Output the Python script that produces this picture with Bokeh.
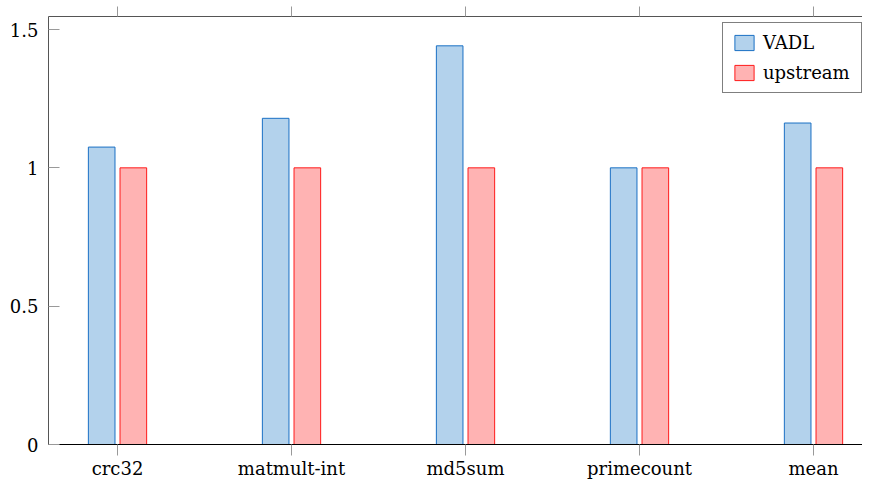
from bokeh.plotting import figure
from bokeh.models import (ColumnDataSource, Range1d, FixedTicker, LinearAxis,
                          Legend, LegendItem)
from bokeh.embed import file_html
from bokeh.resources import INLINE

# ---- data ----
categories = ["crc32", "matmult-int", "md5sum", "primecount", "mean"]
vadl = [1.075, 1.179, 1.441, 1.0, 1.162]
upstream = [1.0, 1.0, 1.0, 1.0, 1.0]
y_ticks = [0, 0.5, 1, 1.5]
y_tick_labels = ["0", "0.5", "1", "1.5"]

FONT = "DejaVu Serif"
FSIZE = "18px"
BLUE_FILL = "#b3d2ec"
BLUE_LINE = "#1a70c4"
RED_FILL = "#ffb3b3"
RED_LINE = "#ff1a1a"

idx = list(range(len(categories)))
offset = 0.091
bar_w = 0.153

src = ColumnDataSource(dict(
    xv=[i - offset for i in idx],
    xu=[i + offset for i in idx],
    vadl=vadl,
    upstream=upstream,
))

p = figure(width=862, height=481, output_backend="svg", toolbar_location=None,
           x_range=Range1d(-0.3966, 4.2816), y_range=Range1d(0, 1.547),
           min_border_left=48, min_border_right=0, min_border_top=16,
           min_border_bottom=34, x_axis_location=None, y_axis_location=None)
p.outline_line_color = None
p.xgrid.visible = False
p.ygrid.visible = False
p.background_fill_color = "white"
p.border_fill_color = "white"

r_v = p.vbar(x="xv", top="vadl", width=bar_w, bottom=0, source=src,
             fill_color=BLUE_FILL, line_color=BLUE_LINE, line_width=1)
r_u = p.vbar(x="xu", top="upstream", width=bar_w, bottom=0, source=src,
             fill_color=RED_FILL, line_color=RED_LINE, line_width=1)

# bottom axis
xb = LinearAxis(ticker=FixedTicker(ticks=idx),
                major_label_overrides={i: c for i, c in zip(idx, categories)})
xb.axis_line_color = "black"
xb.axis_line_width = 1
xb.major_tick_in = 0
xb.major_tick_out = 11
xb.major_tick_line_color = "#999999"
xb.minor_tick_line_color = None
xb.major_label_standoff = 2
xb.major_label_text_font = FONT
xb.major_label_text_font_size = FSIZE
xb.major_label_text_color = "black"
p.add_layout(xb, "below")

# top axis (ticks only)
xt = LinearAxis(ticker=FixedTicker(ticks=idx),
                major_label_overrides={i: "" for i in idx})
xt.axis_line_color = "#555555"
xt.major_tick_in = 0
xt.major_tick_out = 10
xt.major_tick_line_color = "#999999"
xt.minor_tick_line_color = None
xt.major_label_standoff = 0
xt.major_label_text_font_size = "0px"
p.add_layout(xt, "above")

# left axis
yl = LinearAxis(ticker=FixedTicker(ticks=y_ticks),
                major_label_overrides={t: l for t, l in zip(y_ticks, y_tick_labels)})
yl.axis_line_color = "#555555"
yl.major_tick_in = 11
yl.major_tick_out = 0
yl.major_tick_line_color = "#999999"
yl.minor_tick_line_color = None
yl.major_label_standoff = 10
yl.major_label_text_font = FONT
yl.major_label_text_font_size = FSIZE
yl.major_label_text_color = "black"
p.add_layout(yl, "left")

legend = Legend(items=[LegendItem(label="VADL", renderers=[r_v]),
                       LegendItem(label="upstream", renderers=[r_u])],
                location=(674, 351))
legend.label_text_font = FONT
legend.label_text_font_size = FSIZE
legend.label_text_color = "black"
legend.glyph_width = 24
legend.glyph_height = 19
legend.label_standoff = 7
legend.label_width = 89
legend.padding = 9
legend.spacing = 9
legend.margin = 0
legend.border_line_color = "black"
legend.border_line_width = 1
legend.background_fill_alpha = 1
p.add_layout(legend, "center")

open("out.html", "w").write(file_html(p, INLINE))
